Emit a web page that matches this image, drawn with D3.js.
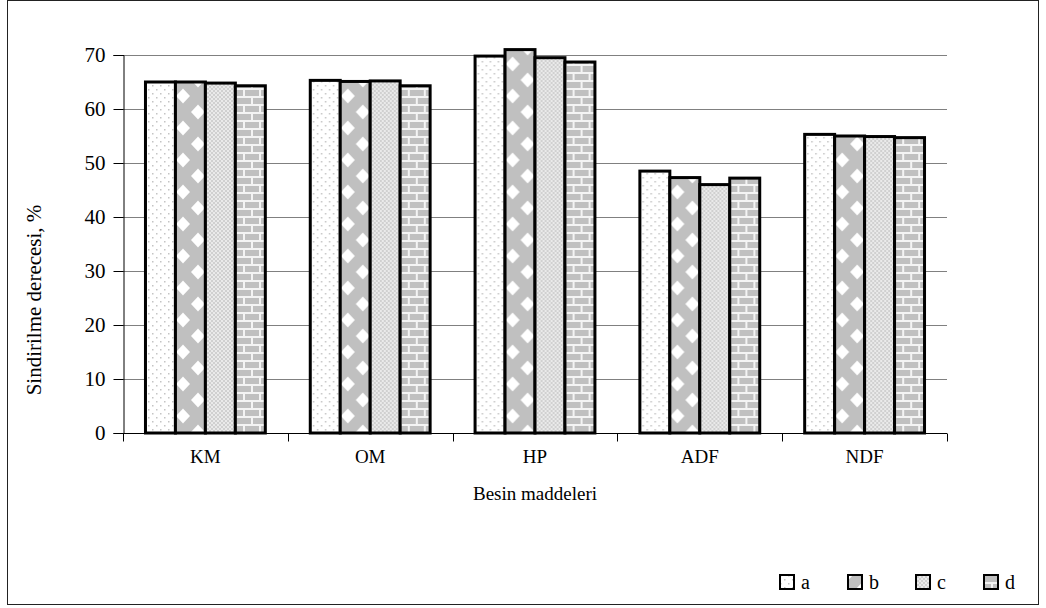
<!DOCTYPE html>
<html>
<head>
<meta charset="utf-8">
<script src="https://cdn.jsdelivr.net/npm/d3@7"></script>
<style>
  html, body { margin: 0; padding: 0; background: #fff; }
  svg { display: block; }
  text { font-family: "Liberation Serif", "Times New Roman", serif; fill: #000; }
</style>
</head>
<body>
<svg id="chart" width="1046" height="608"></svg>
<script>
// Nutrient categories and digestibility (%) for the four groups
const categories = ["KM", "OM", "HP", "ADF", "NDF"];
const seriesNames = ["a", "b", "c", "d"];
const valuesA = [65.0, 65.3, 69.8, 48.5, 55.3];
const valuesB = [65.0, 65.1, 71.0, 47.3, 55.0];
const valuesC = [64.8, 65.2, 69.5, 46.0, 54.9];
const valuesD = [64.3, 64.3, 68.7, 47.2, 54.7];
const yTicks = [0, 10, 20, 30, 40, 50, 60, 70];
const xTitle = "Besin maddeleri";
const yTitle = "Sindirilme derecesi, %";

const seriesValues = [valuesA, valuesB, valuesC, valuesD];

const svg = d3.select("#chart");

// ---- fill patterns ----
const defs = svg.append("defs");

// a: sparse grey dots on white
const pa = defs.append("pattern").attr("id", "pat-a").attr("patternUnits", "userSpaceOnUse")
  .attr("width", 8).attr("height", 8);
pa.append("rect").attr("width", 8).attr("height", 8).attr("fill", "#fff");
pa.append("rect").attr("x", 1).attr("y", 1).attr("width", 1.5).attr("height", 1.5).attr("fill", "#c4c4c4");
pa.append("rect").attr("x", 5).attr("y", 5).attr("width", 1.5).attr("height", 1.5).attr("fill", "#c4c4c4");

// b: white diamonds on grey
const pb = defs.append("pattern").attr("id", "pat-b").attr("patternUnits", "userSpaceOnUse")
  .attr("width", 30).attr("height", 32);
pb.append("rect").attr("width", 30).attr("height", 32).attr("fill", "#c0c0c0");
const dia = (cx, cy, rx, ry) => `M${cx},${cy - ry}L${cx + rx},${cy}L${cx},${cy + ry}L${cx - rx},${cy}Z`;
[[0, 0], [30, 0], [0, 32], [30, 32], [15, 16]].forEach(([cx, cy]) => {
  pb.append("path").attr("d", dia(cx, cy, 7, 7.5)).attr("fill", "#fff");
});

// c: fine light-grey checkerboard
const pc = defs.append("pattern").attr("id", "pat-c").attr("patternUnits", "userSpaceOnUse")
  .attr("width", 4).attr("height", 4);
pc.append("rect").attr("width", 4).attr("height", 4).attr("fill", "#eaeaea");
pc.append("rect").attr("width", 2).attr("height", 2).attr("fill", "#d0d0d0");
pc.append("rect").attr("x", 2).attr("y", 2).attr("width", 2).attr("height", 2).attr("fill", "#d0d0d0");

// d: grey bricks with white mortar
const pd = defs.append("pattern").attr("id", "pat-d").attr("patternUnits", "userSpaceOnUse")
  .attr("width", 16).attr("height", 16);
pd.append("rect").attr("width", 16).attr("height", 16).attr("fill", "#f4f4f4");
pd.append("rect").attr("x", 2).attr("y", 2).attr("width", 14).attr("height", 6).attr("fill", "#c0c0c0");
pd.append("rect").attr("x", 0).attr("y", 10).attr("width", 8).attr("height", 6).attr("fill", "#c0c0c0");
pd.append("rect").attr("x", 10).attr("y", 10).attr("width", 6).attr("height", 6).attr("fill", "#c0c0c0");

const fills = ["url(#pat-a)", "url(#pat-b)", "url(#pat-c)", "url(#pat-d)"];

// ---- outer frame ----
svg.append("rect").attr("x", 7.5).attr("y", 0.5).attr("width", 1031).attr("height", 604)
  .attr("fill", "none").attr("stroke", "#222").attr("stroke-width", 1);

// ---- scales ----
const plotLeft = 123, plotRight = 947, plotTop = 55, plotBottom = 433;
const y = d3.scaleLinear().domain([0, 70]).range([plotBottom, plotTop]);
const x = d3.scaleBand().domain(categories).range([plotLeft, plotRight]).padding(0);
const xs = d3.scaleBand().domain(seriesNames).range([0, x.bandwidth()])
  .paddingInner(0).paddingOuter(0.75);

// ---- gridlines ----
svg.append("g").selectAll("line").data(yTicks.filter(t => t > 0)).join("line")
  .attr("x1", plotLeft).attr("x2", plotRight)
  .attr("y1", d => Math.round(y(d)) + 0.5).attr("y2", d => Math.round(y(d)) + 0.5)
  .attr("stroke", "#808080").attr("stroke-width", 1);

// ---- bars ----
const groups = svg.append("g").selectAll("g").data(categories).join("g")
  .attr("transform", d => `translate(${x(d)},0)`);
groups.selectAll("rect")
  .data((c, i) => seriesNames.map((s, j) => ({ s, j, v: seriesValues[j][i] })))
  .join("rect")
  .attr("x", d => xs(d.s))
  .attr("y", d => y(d.v))
  .attr("width", xs.bandwidth())
  .attr("height", d => y(0) - y(d.v))
  .attr("fill", d => fills[d.j])
  .attr("stroke", "#000").attr("stroke-width", 3);

// ---- y axis ----
const yAxis = d3.axisLeft(y).tickValues(yTicks).tickSize(10).tickPadding(8).tickFormat(d3.format("d"));
const gy = svg.append("g").attr("transform", `translate(${plotLeft + 0.5},0)`).call(yAxis);
gy.select(".domain").attr("stroke", "#000");
gy.selectAll(".tick line").attr("stroke", "#000");
gy.selectAll(".tick text").style("font-size", "21px").style("font-family", "Liberation Serif");

// ---- x axis ----
const gx = svg.append("g").attr("transform", `translate(0,${plotBottom + 0.5})`);
gx.append("line").attr("x1", plotLeft).attr("x2", plotRight).attr("stroke", "#000");
const bounds = categories.map(c => x(c)).concat([plotRight]);
gx.selectAll("line.tk").data(bounds).join("line").attr("class", "tk")
  .attr("x1", d => Math.round(d) + 0.5).attr("x2", d => Math.round(d) + 0.5)
  .attr("y1", 0).attr("y2", 8).attr("stroke", "#000");
gx.selectAll("text").data(categories).join("text")
  .attr("x", d => x(d) + x.bandwidth() / 2).attr("y", 29)
  .attr("text-anchor", "middle").style("font-size", "19px").text(d => d);

// ---- axis titles ----
svg.append("text").attr("x", (plotLeft + plotRight) / 2).attr("y", 500)
  .attr("text-anchor", "middle").style("font-size", "19px").text(xTitle);
svg.append("text").attr("transform", "translate(41,300) rotate(-90)")
  .attr("text-anchor", "middle").style("font-size", "21px").text(yTitle);

// ---- legend ----
const lg = svg.append("g").attr("transform", "translate(779,574)");
const items = lg.selectAll("g").data(seriesNames).join("g")
  .attr("transform", (d, i) => `translate(${i * 68},0)`);
items.append("rect").attr("x", 1).attr("y", 1).attr("width", 14).attr("height", 14)
  .attr("fill", (d, i) => fills[i]).attr("stroke", "#000").attr("stroke-width", 2);
items.append("text").attr("x", 22).attr("y", 15).style("font-size", "20px").text(d => d);
</script>
</body>
</html>
